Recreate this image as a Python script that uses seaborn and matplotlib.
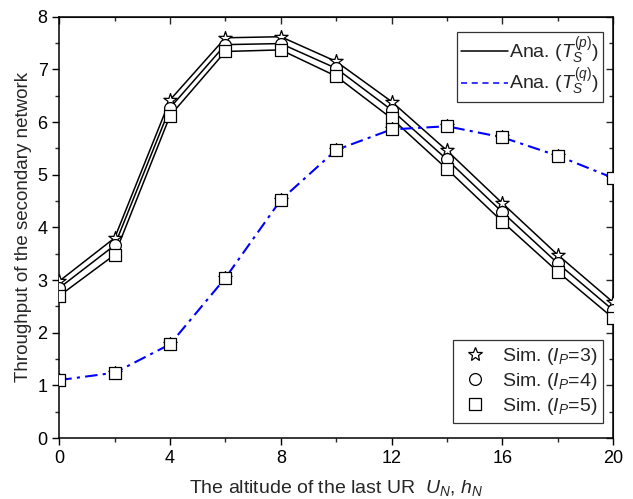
import numpy as np
import pandas as pd
import matplotlib
matplotlib.use("Agg")
import matplotlib.pyplot as plt
import seaborn as sns
from matplotlib.lines import Line2D

# altitude of the last UR
h_N = [0, 2, 4, 6, 8, 10, 12, 14, 16, 18, 20]

# analytical T_S^(p) for I_P = 3, 4, 5
ana_p_ip3 = [2.98, 3.80, 6.42, 7.60, 7.62, 7.15, 6.39, 5.46, 4.46, 3.48, 2.58]
ana_p_ip4 = [2.85, 3.66, 6.27, 7.47, 7.49, 7.02, 6.23, 5.29, 4.29, 3.32, 2.43]
ana_p_ip5 = [2.70, 3.48, 6.12, 7.34, 7.37, 6.87, 6.07, 5.11, 4.11, 3.16, 2.28]

# analytical T_S^(q)
ana_q = [1.10, 1.24, 1.78, 3.04, 4.52, 5.47, 5.86, 5.92, 5.71, 5.36, 4.94]

sns.set_style("ticks")
plt.rcParams['font.family'] = ['Liberation Sans', 'DejaVu Sans']
plt.rcParams['mathtext.fontset'] = 'custom'
plt.rcParams['mathtext.rm'] = 'Liberation Sans'
plt.rcParams['mathtext.it'] = 'Liberation Sans:italic'
plt.rcParams['mathtext.bf'] = 'Liberation Sans:bold'

fig = plt.figure(figsize=(6.33, 4.99), dpi=100)
ax = fig.add_axes([0.0937, 0.1222, 0.8747, 0.8443])

# analytical lines
for ys in [ana_p_ip3, ana_p_ip4, ana_p_ip5]:
    sns.lineplot(x=h_N, y=ys, ax=ax, color='black', linewidth=1.1, zorder=2)
sns.lineplot(x=h_N, y=ana_q, ax=ax, color='blue', linewidth=1.5, zorder=2)
ax.lines[-1].set_dashes([6, 2.5, 1.5, 2.5])

# simulation markers
sim_sets = [
    (ana_p_ip3, '*', 10),
    (ana_p_ip4, 'o', 8.5),
    (ana_p_ip5, 's', 8.5),
]
for ys, mk, ms in sim_sets:
    sns.scatterplot(x=h_N, y=ys, ax=ax, marker=mk, s=ms ** 2, facecolor='white',
                    edgecolor='black', linewidth=0.9, zorder=3)
for ys, mk, ms in sim_sets:
    sns.scatterplot(x=h_N, y=ana_q, ax=ax, marker=mk, s=ms ** 2, facecolor='white',
                    edgecolor='black', linewidth=0.9, zorder=3)

ax.set_xlim(0, 20)
ax.set_ylim(0, 8)
ax.set_xticks([0, 4, 8, 12, 16, 20])
ax.set_xticks([2, 6, 10, 14, 18], minor=True)
ax.set_yticks(range(0, 9))
ax.set_yticks(np.arange(0.5, 8, 1.0), minor=True)
ax.tick_params(which='major', direction='out', length=5, width=1, labelsize=13, colors='black')
ax.tick_params(which='minor', direction='out', length=3, width=1)
for sp in ax.spines.values():
    sp.set_visible(True)
    sp.set_linewidth(1.1)
    sp.set_color('black')

# inward ticks on top and right
top = ax.secondary_xaxis('top')
top.set_xticks([0, 4, 8, 12, 16, 20])
top.set_xticks([2, 6, 10, 14, 18], minor=True)
top.tick_params(which='major', direction='in', length=5, width=1, labeltop=False)
top.tick_params(which='minor', direction='in', length=3, width=1)
right = ax.secondary_yaxis('right')
right.set_yticks(range(0, 9))
right.set_yticks(np.arange(0.5, 8, 1.0), minor=True)
right.tick_params(which='major', direction='in', length=5, width=1, labelright=False)
right.tick_params(which='minor', direction='in', length=3, width=1)

ax.set_xlabel(r'The altitude of the last UR  $U_N$, $h_N$', fontsize=14, labelpad=8)
ax.set_ylabel('Throughput of the secondary network', fontsize=13.5, labelpad=4)

# legends
ana_handles = [
    Line2D([], [], color='black', linewidth=1.1),
    Line2D([], [], color='blue', linewidth=1.1, linestyle=(0, (4, 3))),
]
ana_labels = [r'Ana. ($T_S^{(p)}$)', r'Ana. ($T_S^{(q)}$)']
leg1 = ax.legend(ana_handles, ana_labels, loc='upper right', bbox_to_anchor=(0.982, 0.964),
                 fontsize=14, frameon=True, fancybox=False, edgecolor='black',
                 handlelength=2.4, handletextpad=0.1, borderpad=0.2, labelspacing=0.0,
                 borderaxespad=0)
leg1.get_frame().set_linewidth(0.9)
ax.add_artist(leg1)

sim_handles = [
    Line2D([], [], linestyle='none', marker='*', markersize=10, markerfacecolor='white',
           markeredgecolor='black', markeredgewidth=0.9),
    Line2D([], [], linestyle='none', marker='o', markersize=8.5, markerfacecolor='white',
           markeredgecolor='black', markeredgewidth=0.9),
    Line2D([], [], linestyle='none', marker='s', markersize=8.5, markerfacecolor='white',
           markeredgecolor='black', markeredgewidth=0.9),
]
sim_labels = [r'Sim. ($I_P$=3)', r'Sim. ($I_P$=4)', r'Sim. ($I_P$=5)']
leg2 = ax.legend(sim_handles, sim_labels, loc='lower right', bbox_to_anchor=(0.982, 0.036),
                 fontsize=14, frameon=True, fancybox=False, edgecolor='black',
                 handlelength=1.6, handletextpad=0.6, borderpad=0.3, labelspacing=0.2,
                 borderaxespad=0)
leg2.get_frame().set_linewidth(0.9)

fig.savefig('out.png', dpi=100)
